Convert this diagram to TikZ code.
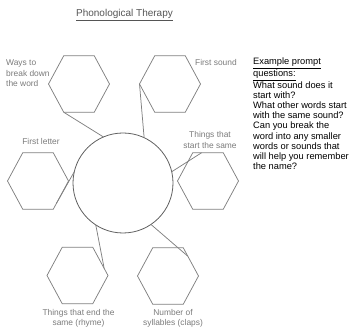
\documentclass[tikz,border=0pt]{standalone}
\usepackage{fontspec}
\setmainfont{Liberation Sans}
\usetikzlibrary{shapes.geometric,calc}
\definecolor{lbl}{HTML}{7A7A7A}
\definecolor{hexc}{HTML}{808080}
\definecolor{circc}{HTML}{606060}
\definecolor{titc}{HTML}{555555}
\begin{document}
\begin{tikzpicture}[x=1pt,y=-1pt,
  hexa/.style={draw=hexc, line width=0.75pt, regular polygon, regular polygon sides=6,
    minimum size=61pt, inner sep=0pt, outer sep=0pt, yscale=1.07, transform shape},
  hub/.style={draw=circc, line width=0.8pt, circle, minimum size=100pt, inner sep=0pt, outer sep=0pt},
  link/.style={draw=hexc, line width=0.75pt},
  lab/.style={text=lbl, inner sep=0pt, font={\fontsize{8.4}{10.5}\selectfont}},
  note/.style={text=black, inner sep=0pt, align=left, font={\fontsize{9.3}{10.2}\selectfont}}]
\useasboundingbox (0,0) rectangle (351,328);
% title
\node[inner sep=0pt, text=titc, font={\fontsize{10}{12}\selectfont}] (title) at (124.5,15) {\underline{Phonological Therapy}};
% centre
\node[hub] (c) at (123,183) {};
% hexagons
\node[hexa] (tl) at (79,84) {};
\node[hexa] (tr) at (170,84) {};
\node[hexa] (l) at (38,181) {};
\node[hexa] (r) at (208,181) {};
\node[hexa] (bl) at (77.5,275.5) {};
\node[hexa] (br) at (168,276) {};
% connectors
\draw[link] (tl.corner 4) -- (c.113);
\draw[link] (tr.corner 3) -- (c.65);
\draw[link] ($(l.corner 6)!0.79!(l.corner 5)$) -- (c.167);
\draw[link] ($(r.corner 1)!0.71!(r.corner 2)$) -- (c.13);
\draw[link] ($(bl.corner 1)!0.75!(bl.corner 6)$) -- (c.237);
\draw[link] ($(br.corner 1)!0.3!(br.corner 6)$) -- (c.304);
% labels
\node[lab, align=left, anchor=west] (lwb) at (6,73.5) {Ways to\\break down\\the word};
\node[lab, anchor=west] (lfs) at (195,63) {First sound};
\node[lab] (lfl) at (41,142) {First letter};
\node[lab, align=center] (lts) at (210,140) {Things that\\start the same};
\node[lab, align=center] (lte) at (78.5,318.5) {Things that end the\\same (rhyme)};
\node[lab, align=center] (lns) at (173,318.5) {Number of\\syllables (claps)};
% example questions
\node[note, anchor=west] (ex) at (253,114) {\underline{Example prompt}\\\underline{questions:}\\What sound does it\\start with?\\What other words start\\with the same sound?\\Can you break the\\word into any smaller\\words or sounds that\\will help you remember\\the name?};
\end{tikzpicture}
\end{document}
